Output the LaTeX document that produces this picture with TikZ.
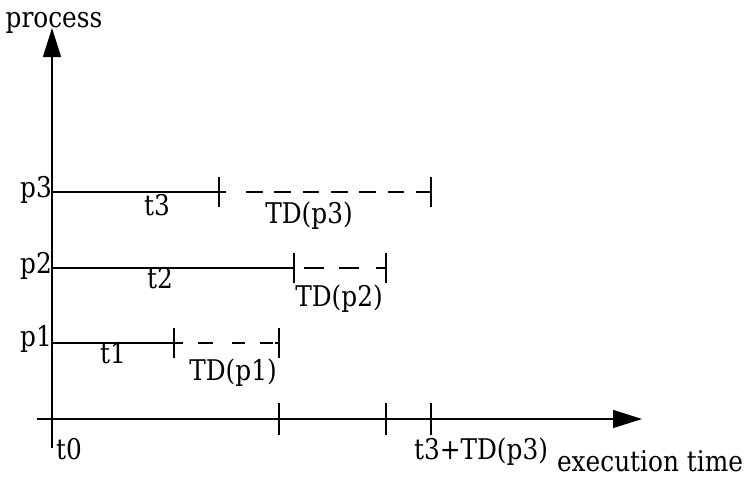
\documentclass[tikz,border=0pt]{standalone}
\usepackage{fontspec}
\setmainfont[FakeStretch=0.87]{DejaVu Serif}
\usetikzlibrary{arrows.meta}
\begin{document}
\begin{tikzpicture}[x=1pt,y=-1pt,
  axisline/.style={line width=1.4pt,-{Triangle[length=29pt,width=18pt]}},
  seg/.style={line width=1.3pt},
  tickmark/.style={line width=1.3pt},
  lbl/.style={font=\fontsize{28.5}{33}\selectfont,inner sep=0pt,anchor=base}]
\useasboundingbox (0,0) rectangle (753,477);
% axes
\coordinate (ybot) at (52,448);
\coordinate (ytop) at (52,28);
\coordinate (xleft) at (37,419);
\coordinate (xright) at (642,419);
\draw[axisline] (ybot) -- (ytop);
\draw[axisline] (xleft) -- (xright);
% x-axis ticks
\foreach \n/\x in {a/279,b/386,c/431}{
  \coordinate (xt\n) at (\x,419);
  \draw[tickmark] ([yshift=-16pt]xt\n) -- ([yshift=16pt]xt\n);
}
% p3
\coordinate (p3s) at (52,192);
\coordinate (p3m) at (219,192);
\coordinate (p3e) at (431,192);
\draw[seg] (p3s) -- (p3m);
\draw[seg,dash pattern=on 7pt off 20pt on 17pt off 11pt on 17pt off 12pt on 16pt off 12pt on 17pt off 11pt on 17pt off 12pt on 16pt off 12pt on 20pt] (p3m) -- (p3e);
\draw[tickmark] ([yshift=-15pt]p3m) -- ([yshift=15pt]p3m);
\draw[tickmark] ([yshift=-15pt]p3e) -- ([yshift=15pt]p3e);
% p2
\coordinate (p2s) at (52,268);
\coordinate (p2m) at (294,268);
\coordinate (p2e) at (386,268);
\draw[seg] (p2s) -- (p2m);
\draw[seg,dash pattern=on 0pt off 10pt on 20pt off 15pt on 20pt off 17pt on 20pt] (p2m) -- (p2e);
\draw[tickmark] ([yshift=-15pt]p2m) -- ([yshift=15pt]p2m);
\draw[tickmark] ([yshift=-15pt]p2e) -- ([yshift=15pt]p2e);
% p1
\coordinate (p1s) at (52,343);
\coordinate (p1m) at (174,343);
\coordinate (p1e) at (279,343);
\draw[seg] (p1s) -- (p1m);
\draw[seg,dash pattern=on 9pt off 15pt on 15pt off 19pt on 13pt off 15pt on 13pt off 2pt on 20pt] (p1m) -- (p1e);
\draw[tickmark] ([yshift=-15pt]p1m) -- ([yshift=15pt]p1m);
\draw[tickmark] ([yshift=-15pt]p1e) -- ([yshift=15pt]p1e);
% labels
\node[lbl] (lproc) at (54,27) {process};
\node[lbl] (lp3) at (36,197) {p3};
\node[lbl] (lp2) at (36,273) {p2};
\node[lbl] (lp1) at (36,346) {p1};
\node[lbl] (lt3) at (157,215) {t3};
\node[lbl] (ltd3) at (309,223) {TD(p3)};
\node[lbl] (lt2) at (160,288) {t2};
\node[lbl] (ltd2) at (339,306) {TD(p2)};
\node[lbl] (lt1) at (113,363) {t1};
\node[lbl] (ltd1) at (233,380) {TD(p1)};
\node[lbl,anchor=base west] (lt0) at (56,459) {t0};
\node[lbl] (lt3td) at (481,459) {t3+TD(p3)};
\node[lbl] (lexec) at (650,471) {execution time};
\end{tikzpicture}
\end{document}
